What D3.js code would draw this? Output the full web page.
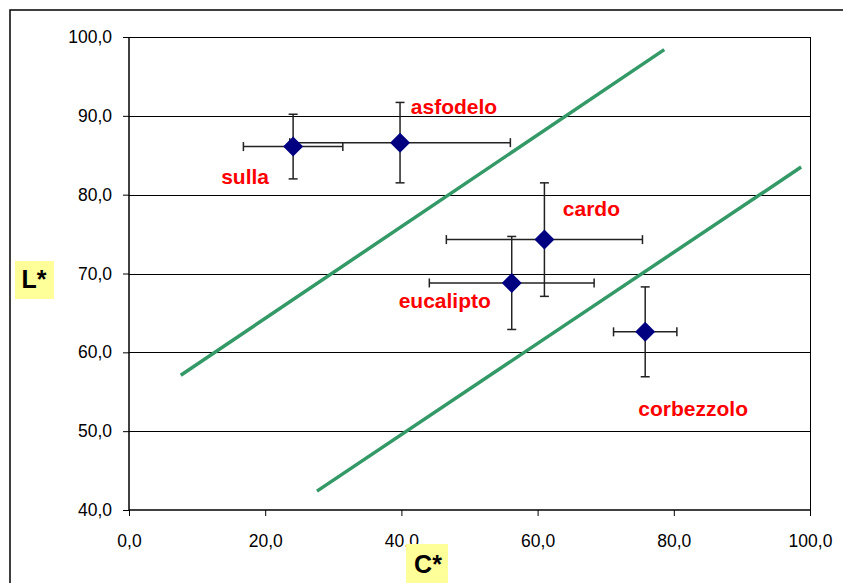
<!DOCTYPE html>
<html>
<head>
<meta charset="utf-8">
<script src="https://cdn.jsdelivr.net/npm/d3@7"></script>
<style>
body { margin: 0; background: #fff; }
text { font-family: Arial, "Liberation Sans", sans-serif; }
</style>
</head>
<body>
<script>
// data
var names = ["sulla", "asfodelo", "cardo", "eucalipto", "corbezzolo"];
var cValues = [24.1, 39.8, 61.0, 56.2, 75.8];
var lValues = [86.1, 86.6, 74.3, 68.8, 62.6];
var cErrors = [7.3, 16.2, 14.4, 12.1, 4.65];
var lErrors = [4.1, 5.1, 7.2, 5.9, 5.7];

// the two green boundary lines, [C, L] end points
var line1 = [[7.6, 57.1], [78.6, 98.4]];
var line2 = [[27.6, 42.4], [98.7, 83.5]];

var xTicks = [0, 20, 40, 60, 80, 100];
var yTicks = [40, 50, 60, 70, 80, 90, 100];

// label offsets from each point (pixels, to text baseline centre)
var labelOffsets = {
    sulla: [-48, 37],
    asfodelo: [54, -29],
    cardo: [47, -24],
    eucalipto: [-67, 25],
    corbezzolo: [48, 84]
};

var width = 843;
var height = 583;

var margin = { top: 37, left: 129, right: 33, bottom: 73 };

var svg = d3.select("body")
    .append("svg")
    .attr("width", width)
    .attr("height", height);

// outer chart frame
svg.append("rect")
    .attr("x", 10)
    .attr("y", 10)
    .attr("width", 900)
    .attr("height", 700)
    .attr("fill", "none")
    .attr("stroke", "#000")
    .attr("stroke-width", 1.5);

var x = d3.scaleLinear().domain([0, 100]).range([margin.left, width - margin.right]);
var y = d3.scaleLinear().domain([40, 100]).range([height - margin.bottom, margin.top]);

var fmt = function(d) { return d3.format(".1f")(d).replace(".", ","); };

// gridlines
svg.append("g")
    .selectAll("line")
    .data(yTicks.slice(1))
    .enter()
    .append("line")
    .attr("x1", x(0))
    .attr("x2", x(100))
    .attr("y1", function(d) { return Math.round(y(d)) + 0.5; })
    .attr("y2", function(d) { return Math.round(y(d)) + 0.5; })
    .attr("stroke", "#000")
    .attr("stroke-width", 1);

// right border of plot area
svg.append("line")
    .attr("x1", Math.round(x(100)) + 0.5)
    .attr("x2", Math.round(x(100)) + 0.5)
    .attr("y1", y(100))
    .attr("y2", y(40))
    .attr("stroke", "#000");

// axes
var xAxis = svg.append("g")
    .attr("transform", "translate(0," + y(40) + ")")
    .call(d3.axisBottom(x).tickValues(xTicks).tickFormat(fmt).tickSize(6).tickPadding(19));

var yAxis = svg.append("g")
    .attr("transform", "translate(" + x(0) + ",0)")
    .call(d3.axisLeft(y).tickValues(yTicks).tickFormat(fmt).tickSize(6).tickPadding(11));

[xAxis, yAxis].forEach(function(a) {
    a.select(".domain").attr("stroke", "#000").attr("stroke-width", 1.5);
    a.selectAll(".tick line").attr("stroke", "#000");
    a.selectAll("text")
        .style("font-size", "17.5px")
        .style("font-family", "Arial, 'Liberation Sans', sans-serif")
        .attr("fill", "#000");
});
yAxis.select(".domain").attr("d", "M0," + y(40) + "V" + y(100));
xAxis.select(".domain").attr("d", "M" + x(0) + ",0H" + x(100));

// green lines
[line1, line2].forEach(function(l) {
    svg.append("line")
        .attr("x1", x(l[0][0]))
        .attr("y1", y(l[0][1]))
        .attr("x2", x(l[1][0]))
        .attr("y2", y(l[1][1]))
        .attr("stroke", "#339966")
        .attr("stroke-width", 3.5);
});

var points = names.map(function(n, i) {
    return { name: n, c: cValues[i], l: lValues[i], ce: cErrors[i], le: lErrors[i] };
});

// error bars
var cap = 4.5;
var bars = svg.append("g")
    .attr("stroke", "#222")
    .attr("stroke-width", 1.5);

points.forEach(function(d) {
    var px = x(d.c), py = y(d.l);
    var x0 = x(d.c - d.ce), x1 = x(d.c + d.ce);
    var y0 = y(d.l - d.le), y1 = y(d.l + d.le);
    bars.append("line").attr("x1", x0).attr("x2", x1).attr("y1", py).attr("y2", py);
    bars.append("line").attr("x1", x0).attr("x2", x0).attr("y1", py - cap).attr("y2", py + cap);
    bars.append("line").attr("x1", x1).attr("x2", x1).attr("y1", py - cap).attr("y2", py + cap);
    bars.append("line").attr("x1", px).attr("x2", px).attr("y1", y0).attr("y2", y1);
    bars.append("line").attr("x1", px - cap).attr("x2", px + cap).attr("y1", y0).attr("y2", y0);
    bars.append("line").attr("x1", px - cap).attr("x2", px + cap).attr("y1", y1).attr("y2", y1);
});

// diamond markers
svg.append("g")
    .selectAll("path")
    .data(points)
    .enter()
    .append("path")
    .attr("d", "M0,-10L10,0L0,10L-10,0Z")
    .attr("transform", function(d) { return "translate(" + x(d.c) + "," + y(d.l) + ")"; })
    .attr("fill", "#000080");

// labels
svg.append("g")
    .selectAll("text")
    .data(points)
    .enter()
    .append("text")
    .attr("x", function(d) { return x(d.c) + labelOffsets[d.name][0]; })
    .attr("y", function(d) { return y(d.l) + labelOffsets[d.name][1]; })
    .attr("text-anchor", "middle")
    .style("font-size", "21px")
    .style("font-weight", "bold")
    .attr("fill", "#ff0000")
    .text(function(d) { return d.name; });

// axis titles with yellow boxes
function boxTitle(bx, by, bw, bh, tx, ty, label) {
    svg.append("rect")
        .attr("x", bx)
        .attr("y", by)
        .attr("width", bw)
        .attr("height", bh)
        .attr("fill", "#ffff99");
    svg.append("text")
        .attr("x", tx)
        .attr("y", ty)
        .attr("text-anchor", "middle")
        .style("font-size", "25px")
        .style("font-weight", "bold")
        .text(label);
}
boxTitle(15, 261, 39, 38, 34, 288, "L*");
boxTitle(406, 544, 42, 45, 428, 573, "C*");
</script>
</body>
</html>
